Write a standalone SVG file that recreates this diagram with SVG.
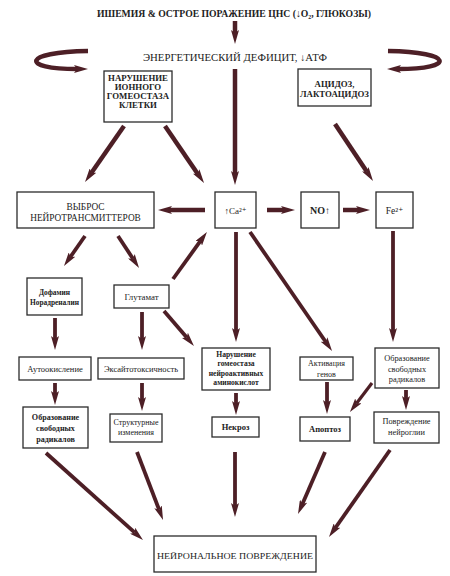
<svg xmlns="http://www.w3.org/2000/svg" width="450" height="576" viewBox="0 0 450 576">
<style>
  .box{fill:#fff;stroke:#2b2b2b;stroke-width:1.3}
  .t{font-family:"Liberation Serif","DejaVu Serif",serif;fill:#222;text-anchor:middle}
  .b{font-weight:bold}
  .c{stroke:#4d1f26;fill:none;stroke-linecap:butt}
  .w5{stroke-width:4.5}
  .w4{stroke-width:3.8}
  .w3{stroke-width:3.2}
</style>
<defs>
  <marker id="ah" viewBox="0 0 14 8" refX="3" refY="4" markerWidth="14" markerHeight="8" markerUnits="userSpaceOnUse" orient="auto">
    <path d="M0,0 L14,4 L0,8 L3,4 z" fill="#4d1f26"/>
  </marker>
</defs>
<rect width="450" height="576" fill="#fff"/>

<g id="title"><text class="t b" x="234" y="17" font-size="10.5" textLength="274" lengthAdjust="spacingAndGlyphs">ИШЕМИЯ &amp; ОСТРОЕ ПОРАЖЕНИЕ ЦНС (↓O₂, ГЛЮКОЗЫ)</text></g>
<g id="energy"><text class="t" x="235" y="60.5" font-size="10" textLength="184" lengthAdjust="spacingAndGlyphs">ЭНЕРГЕТИЧЕСКИЙ  ДЕФИЦИТ, ↓АТФ</text></g>

<g id="ion"><rect class="box" x="104" y="71" width="68" height="51"/>
<text class="t b" font-size="8.8"><tspan x="138" y="80.5">НАРУШЕНИЕ</tspan><tspan x="138" y="89.5">ИОННОГО</tspan><tspan x="138" y="98.5">ГОМЕОСТАЗА</tspan><tspan x="138" y="107.5">КЛЕТКИ</tspan></text></g>

<g id="acid"><rect class="box" x="298" y="69" width="73" height="37"/>
<text class="t b" font-size="8.8"><tspan x="334.5" y="87">АЦИДОЗ,</tspan><tspan x="334.5" y="97">ЛАКТОАЦИДОЗ</tspan></text></g>

<g id="vybros"><rect class="box" x="17" y="192" width="137" height="36"/>
<text class="t" font-size="9.3"><tspan x="85.5" y="210">ВЫБРОС</tspan><tspan x="85.5" y="221">НЕЙРОТРАНСМИТТЕРОВ</tspan></text></g>

<g id="ca"><rect class="box" x="215" y="192" width="41" height="36"/>
<text class="t" x="235.5" y="214" font-size="9">↑Ca²⁺</text></g>

<g id="no"><rect class="box" x="301" y="192" width="38" height="36"/>
<text class="t b" x="320" y="214" font-size="10">NO↑</text></g>

<g id="fe"><rect class="box" x="376" y="192" width="37" height="36"/>
<text class="t" x="394.5" y="214" font-size="9.5">Fe²⁺</text></g>

<g id="dofamin"><rect class="box" x="27" y="278" width="55" height="37"/>
<text class="t b" font-size="7.4"><tspan x="54.5" y="295">Дофамин</tspan><tspan x="54.5" y="304.5">Норадреналин</tspan></text></g>

<g id="glutamat"><rect class="box" x="114" y="285" width="55" height="23"/>
<text class="t" x="141.5" y="300" font-size="8.8">Глутамат</text></g>

<g id="autook"><rect class="box" x="19" y="357" width="72" height="23"/>
<text class="t" x="55" y="372" font-size="8.5">Аутоокисление</text></g>

<g id="excito"><rect class="box" x="98" y="358" width="86" height="21"/>
<text class="t" x="141" y="372" font-size="8.5">Эксайтотоксичность</text></g>

<g id="narush"><rect class="box" x="202" y="348" width="68" height="42"/>
<text class="t b" font-size="7.6"><tspan x="236" y="356.5">Нарушение</tspan><tspan x="236" y="366">гомеостаза</tspan><tspan x="236" y="375.5">нейроактивных</tspan><tspan x="236" y="385">аминокислот</tspan></text></g>

<g id="activ"><rect class="box" x="300" y="357" width="53" height="23"/>
<text class="t" font-size="8"><tspan x="326.5" y="366">Активация</tspan><tspan x="326.5" y="377">генов</tspan></text></g>

<g id="radR"><rect class="box" x="375" y="348" width="64" height="40"/>
<text class="t" font-size="8.3"><tspan x="407" y="361">Образование</tspan><tspan x="407" y="371.5">свободных</tspan><tspan x="407" y="382">радикалов</tspan></text></g>

<g id="radL"><rect class="box" x="23" y="407" width="65" height="41"/>
<text class="t b" font-size="8.1"><tspan x="55.5" y="420">Образование</tspan><tspan x="55.5" y="431">свободных</tspan><tspan x="55.5" y="442">радикалов</tspan></text></g>

<g id="struct"><rect class="box" x="110" y="414" width="52" height="28"/>
<text class="t" font-size="8"><tspan x="136" y="425">Структурные</tspan><tspan x="136" y="435">изменения</tspan></text></g>

<g id="nekroz"><rect class="box" x="212" y="417" width="47" height="20"/>
<text class="t b" x="235.5" y="430" font-size="8.5">Некроз</text></g>

<g id="apoptoz"><rect class="box" x="300" y="417" width="50" height="24"/>
<text class="t b" x="325" y="432" font-size="8.5">Апоптоз</text></g>

<g id="glia"><rect class="box" x="374" y="412" width="65" height="31"/>
<text class="t" font-size="8.3"><tspan x="406.5" y="424">Повреждение</tspan><tspan x="406.5" y="435">нейроглии</tspan></text></g>

<g id="final"><rect class="box" x="154" y="536" width="162" height="36"/>
<text class="t" x="235" y="559" font-size="9" textLength="156" lengthAdjust="spacingAndGlyphs">НЕЙРОНАЛЬНОЕ ПОВРЕЖДЕНИЕ</text></g>

<g id="connectors" class="c">
  <path class="c w5" d="M88,51 C22,52 20,69 77,69" marker-end="url(#ah)"/>
  <path class="c w5" d="M388,51 C454,52 456,69 398,69" marker-end="url(#ah)"/>
  <line class="c w5" x1="235" y1="21" x2="235" y2="33" marker-end="url(#ah)"/>
  <line class="c w5" x1="235" y1="69" x2="235" y2="174" marker-end="url(#ah)"/>
  <line class="c w5" x1="124" y1="126" x2="91.3" y2="173" marker-end="url(#ah)"/>
  <line class="c w5" x1="165" y1="126" x2="197.8" y2="173.9" marker-end="url(#ah)"/>
  <line class="c w5" x1="335" y1="124" x2="366.9" y2="171.8" marker-end="url(#ah)"/>
  <line class="c w5" x1="205" y1="210" x2="169" y2="210" marker-end="url(#ah)"/>
  <line class="c w5" x1="267" y1="210" x2="284" y2="210" marker-end="url(#ah)"/>
  <line class="c w5" x1="343" y1="210" x2="359" y2="210" marker-end="url(#ah)"/>
  <line class="c w4" x1="85" y1="236" x2="70.3" y2="257" marker-end="url(#ah)"/>
  <line class="c w4" x1="118" y1="236" x2="133" y2="258.8" marker-end="url(#ah)"/>
  <line class="c w4" x1="173" y1="279" x2="200.5" y2="240.9" marker-end="url(#ah)"/>
  <line class="c w4" x1="236" y1="232" x2="236" y2="331" marker-end="url(#ah)"/>
  <line class="c w4" x1="250" y1="232" x2="325.8" y2="342" marker-end="url(#ah)"/>
  <line class="c w4" x1="393" y1="231" x2="393" y2="331" marker-end="url(#ah)"/>
  <line class="c w4" x1="55" y1="318" x2="55" y2="339" marker-end="url(#ah)"/>
  <line class="c w4" x1="142" y1="312" x2="142" y2="339" marker-end="url(#ah)"/>
  <line class="c w4" x1="164" y1="311" x2="186.8" y2="337.6" marker-end="url(#ah)"/>
  <line class="c w4" x1="55" y1="383" x2="55" y2="394" marker-end="url(#ah)"/>
  <line class="c w4" x1="142" y1="383" x2="142" y2="400" marker-end="url(#ah)"/>
  <line class="c w4" x1="236" y1="393" x2="236" y2="404" marker-end="url(#ah)"/>
  <line class="c w4" x1="327" y1="382" x2="327" y2="403" marker-end="url(#ah)"/>
  <line class="c w3" x1="372" y1="383" x2="356.6" y2="403.2" marker-end="url(#ah)"/>
  <line class="c w4" x1="406" y1="390" x2="406" y2="399" marker-end="url(#ah)"/>
  <line class="c w4" x1="46" y1="453" x2="134.8" y2="532.7" marker-end="url(#ah)"/>
  <line class="c w4" x1="137" y1="452" x2="159.1" y2="509.7" marker-end="url(#ah)"/>
  <line class="c w4" x1="235" y1="452" x2="235" y2="506" marker-end="url(#ah)"/>
  <line class="c w4" x1="325" y1="452" x2="302.4" y2="503.9" marker-end="url(#ah)"/>
  <line class="c w4" x1="390" y1="450" x2="335.3" y2="528" marker-end="url(#ah)"/>
</g>
</svg>
